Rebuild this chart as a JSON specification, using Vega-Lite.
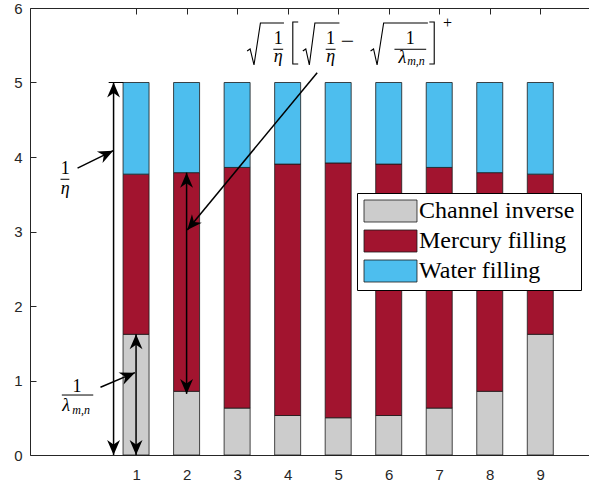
{
  "$schema": "https://vega.github.io/schema/vega-lite/v6.json",
  "width": 559,
  "height": 447,
  "autosize": {"type": "none"},
  "padding": {"left": 30, "top": 8, "right": 0, "bottom": 32},
  "background": "white",
  "config": {
    "view": {"stroke": null},
    "axis": {
      "grid": false,
      "labelFont": "Liberation Sans",
      "labelFontSize": 15,
      "labelColor": "#262626",
      "domainColor": "#262626",
      "tickColor": "#262626",
      "tickSize": -6,
      "domainWidth": 1,
      "tickWidth": 1
    },
    "legend": {
      "orient": "none",
      "legendX": 327,
      "legendY": 185,
      "symbolType": "M-1,-1H3.818V1H-1Z",
      "symbolSize": 484,
      "symbolStrokeColor": "#1a1a1a",
      "symbolStrokeWidth": 0.8,
      "symbolOpacity": 1,
      "labelFont": "Liberation Serif",
      "labelFontSize": 24,
      "labelColor": "black",
      "labelLimit": 300,
      "labelOffset": 32,
      "padding": 6,
      "rowPadding": 4,
      "strokeColor": "black",
      "fillColor": "white",
      "cornerRadius": 0
    }
  },
  "datasets": {
    "bars": [
      {"n": 1, "part": "Channel inverse", "value": 1.62},
      {"n": 1, "part": "Mercury filling", "value": 2.15},
      {"n": 1, "part": "Water filling", "value": 1.23},
      {"n": 2, "part": "Channel inverse", "value": 0.855},
      {"n": 2, "part": "Mercury filling", "value": 2.935},
      {"n": 2, "part": "Water filling", "value": 1.21},
      {"n": 3, "part": "Channel inverse", "value": 0.63},
      {"n": 3, "part": "Mercury filling", "value": 3.23},
      {"n": 3, "part": "Water filling", "value": 1.14},
      {"n": 4, "part": "Channel inverse", "value": 0.53},
      {"n": 4, "part": "Mercury filling", "value": 3.375},
      {"n": 4, "part": "Water filling", "value": 1.095},
      {"n": 5, "part": "Channel inverse", "value": 0.5},
      {"n": 5, "part": "Mercury filling", "value": 3.42},
      {"n": 5, "part": "Water filling", "value": 1.08},
      {"n": 6, "part": "Channel inverse", "value": 0.53},
      {"n": 6, "part": "Mercury filling", "value": 3.375},
      {"n": 6, "part": "Water filling", "value": 1.095},
      {"n": 7, "part": "Channel inverse", "value": 0.63},
      {"n": 7, "part": "Mercury filling", "value": 3.23},
      {"n": 7, "part": "Water filling", "value": 1.14},
      {"n": 8, "part": "Channel inverse", "value": 0.855},
      {"n": 8, "part": "Mercury filling", "value": 2.935},
      {"n": 8, "part": "Water filling", "value": 1.21},
      {"n": 9, "part": "Channel inverse", "value": 1.62},
      {"n": 9, "part": "Mercury filling", "value": 2.15},
      {"n": 9, "part": "Water filling", "value": 1.23}
    ],
    "shafts": [
      {"x": 0.555, "y": 0, "x2": 0.555, "y2": 5},
      {"x": 1, "y": 0, "x2": 1, "y2": 1.62},
      {"x": 2, "y": 0.82, "x2": 2, "y2": 3.79},
      {"x": -0.158, "y": 3.85, "x2": 0.548, "y2": 4.085},
      {"x": 0.296, "y": 0.909, "x2": 0.977, "y2": 1.105},
      {"x": 4.584, "y": 5.132, "x2": 2.013, "y2": 3.02}
    ],
    "thin": [
      {"x": 0.458, "y": 5, "x2": 0.749, "y2": 5},
      {"x": -0.495, "y": 3.701, "x2": -0.32, "y2": 3.701},
      {"x": -0.469, "y": 0.805, "x2": 0.153, "y2": 0.805},
      {"x": 3.717, "y": 5.446, "x2": 3.912, "y2": 5.446},
      {"x": 4.753, "y": 5.446, "x2": 4.948, "y2": 5.446},
      {"x": 6.114, "y": 5.446, "x2": 6.742, "y2": 5.446}
    ],
    "strokes": [
      {"id": "r1", "k": 0, "x": 3.198, "y": 5.423},
      {"id": "r1", "k": 1, "x": 3.257, "y": 5.45},
      {"id": "r1", "k": 2, "x": 3.334, "y": 5.235},
      {"id": "r1", "k": 3, "x": 3.461, "y": 5.799},
      {"id": "r1", "k": 4, "x": 3.927, "y": 5.799},
      {"id": "r2", "k": 0, "x": 4.3, "y": 5.423},
      {"id": "r2", "k": 1, "x": 4.359, "y": 5.45},
      {"id": "r2", "k": 2, "x": 4.429, "y": 5.235},
      {"id": "r2", "k": 3, "x": 4.539, "y": 5.799},
      {"id": "r2", "k": 4, "x": 5.025, "y": 5.799},
      {"id": "r3", "k": 0, "x": 5.641, "y": 5.423},
      {"id": "r3", "k": 1, "x": 5.7, "y": 5.45},
      {"id": "r3", "k": 2, "x": 5.77, "y": 5.235},
      {"id": "r3", "k": 3, "x": 5.9, "y": 5.799},
      {"id": "r3", "k": 4, "x": 6.775, "y": 5.799},
      {"id": "bl", "k": 0, "x": 4.209, "y": 5.812},
      {"id": "bl", "k": 1, "x": 4.102, "y": 5.812},
      {"id": "bl", "k": 2, "x": 4.102, "y": 5.248},
      {"id": "bl", "k": 3, "x": 4.209, "y": 5.248},
      {"id": "br", "k": 0, "x": 6.804, "y": 5.812},
      {"id": "br", "k": 1, "x": 6.901, "y": 5.812},
      {"id": "br", "k": 2, "x": 6.901, "y": 5.248},
      {"id": "br", "k": 3, "x": 6.804, "y": 5.248}
    ],
    "heads": [
      {"dir": "up", "x": 0.555, "y": 5},
      {"dir": "up", "x": 1, "y": 1.62},
      {"dir": "up", "x": 2, "y": 3.79},
      {"dir": "down", "x": 0.555, "y": 0},
      {"dir": "down", "x": 1, "y": 0},
      {"dir": "down", "x": 2, "y": 0.82},
      {"dir": "eta", "x": 0.548, "y": 4.085},
      {"dir": "lam", "x": 0.977, "y": 1.105},
      {"dir": "formula", "x": 2.013, "y": 3.02}
    ],
    "notes": [
      {"role": "num", "t": "1", "x": 3.814, "y": 5.585},
      {"role": "num", "t": "1", "x": 4.85, "y": 5.585},
      {"role": "num", "t": "1", "x": 6.425, "y": 5.585},
      {"role": "num", "t": "1", "x": -0.403, "y": 3.835},
      {"role": "num", "t": "1", "x": -0.17, "y": 0.918},
      {"role": "sym", "t": "η", "x": 3.811, "y": 5.34},
      {"role": "sym", "t": "η", "x": 4.85, "y": 5.34},
      {"role": "sym", "t": "λ", "x": 6.269, "y": 5.33},
      {"role": "sym", "t": "η", "x": -0.403, "y": 3.57},
      {"role": "sym", "t": "λ", "x": -0.384, "y": 0.655},
      {"role": "sub", "t": "m,n", "x": 6.366, "y": 5.295},
      {"role": "sub", "t": "m,n", "x": -0.261, "y": 0.61},
      {"role": "minus", "t": "−", "x": 5.187, "y": 5.537},
      {"role": "plus", "t": "+", "x": 7.163, "y": 5.8}
    ]
  },
  "resolve": {"axis": {"x": "independent"}},
  "layer": [
    {
      "data": {"name": "bars"},
      "mark": {"type": "bar", "width": 26, "stroke": "#1a1a1a", "strokeWidth": 0.8},
      "encoding": {
        "x": {
          "field": "n", "type": "quantitative", "title": null,
          "scale": {"domain": [-1, 9.865], "nice": false, "zero": false},
          "axis": {"orient": "bottom", "values": [1, 2, 3, 4, 5, 6, 7, 8, 9], "format": "d", "labelFontSize": 15, "labelFont": "Liberation Sans", "labelPadding": 18}
        },
        "y": {
          "field": "value", "type": "quantitative", "stack": "zero", "title": null,
          "scale": {"domain": [0, 6], "nice": false},
          "axis": {"values": [0, 1, 2, 3, 4, 5, 6], "format": "d", "labelFontSize": 15, "labelFont": "Liberation Sans", "labelPadding": 14}
        },
        "color": {
          "field": "part", "type": "nominal", "title": null,
          "scale": {
            "domain": ["Channel inverse", "Mercury filling", "Water filling"],
            "range": ["#cccccc", "#a2142f", "#4dbeee"]
          }
        },
        "order": {"field": "part"}
      }
    },
    {
      "data": {"name": "shafts"},
      "mark": {"type": "rule", "color": "black", "strokeWidth": 1.5},
      "encoding": {
        "x": {
          "field": "x", "type": "quantitative", "title": null,
          "axis": {"orient": "top", "values": [1, 2, 3, 4, 5, 6, 7, 8, 9], "labels": false}
        },
        "y": {"field": "y", "type": "quantitative", "title": null},
        "x2": {"field": "x2"},
        "y2": {"field": "y2"}
      }
    },
    {
      "data": {"name": "thin"},
      "mark": {"type": "rule", "color": "black", "strokeWidth": 1},
      "encoding": {
        "x": {"field": "x", "type": "quantitative", "title": null, "axis": null},
        "y": {"field": "y", "type": "quantitative", "title": null},
        "x2": {"field": "x2"},
        "y2": {"field": "y2"}
      }
    },
    {
      "data": {"name": "strokes"},
      "mark": {"type": "line", "color": "black", "strokeWidth": 1.1},
      "encoding": {
        "x": {"field": "x", "type": "quantitative", "title": null, "axis": null},
        "y": {"field": "y", "type": "quantitative", "title": null},
        "detail": {"field": "id"},
        "order": {"field": "k"}
      }
    },
    {
      "data": {"name": "heads"},
      "transform": [{"filter": "datum.dir === 'up'"}],
      "mark": {"type": "point", "shape": "M0,0L0.43,1L0,0.7L-0.43,1Z", "size": 900, "filled": true, "color": "black", "opacity": 1, "angle": 0},
      "encoding": {
        "x": {"field": "x", "type": "quantitative", "title": null, "axis": null},
        "y": {"field": "y", "type": "quantitative", "title": null}
      }
    },
    {
      "data": {"name": "heads"},
      "transform": [{"filter": "datum.dir === 'down'"}],
      "mark": {"type": "point", "shape": "M0,0L0.43,1L0,0.7L-0.43,1Z", "size": 900, "filled": true, "color": "black", "opacity": 1, "angle": 180},
      "encoding": {
        "x": {"field": "x", "type": "quantitative", "title": null, "axis": null},
        "y": {"field": "y", "type": "quantitative", "title": null}
      }
    },
    {
      "data": {"name": "heads"},
      "transform": [{"filter": "datum.dir === 'eta'"}],
      "mark": {"type": "point", "shape": "M0,0L0.43,1L0,0.7L-0.43,1Z", "size": 900, "filled": true, "color": "black", "opacity": 1, "angle": 64},
      "encoding": {
        "x": {"field": "x", "type": "quantitative", "title": null, "axis": null},
        "y": {"field": "y", "type": "quantitative", "title": null}
      }
    },
    {
      "data": {"name": "heads"},
      "transform": [{"filter": "datum.dir === 'lam'"}],
      "mark": {"type": "point", "shape": "M0,0L0.43,1L0,0.7L-0.43,1Z", "size": 900, "filled": true, "color": "black", "opacity": 1, "angle": 67},
      "encoding": {
        "x": {"field": "x", "type": "quantitative", "title": null, "axis": null},
        "y": {"field": "y", "type": "quantitative", "title": null}
      }
    },
    {
      "data": {"name": "heads"},
      "transform": [{"filter": "datum.dir === 'formula'"}],
      "mark": {"type": "point", "shape": "M0,0L0.43,1L0,0.7L-0.43,1Z", "size": 900, "filled": true, "color": "black", "opacity": 1, "angle": 220},
      "encoding": {
        "x": {"field": "x", "type": "quantitative", "title": null, "axis": null},
        "y": {"field": "y", "type": "quantitative", "title": null}
      }
    },
    {
      "data": {"name": "notes"},
      "transform": [{"filter": "datum.role === 'num'"}],
      "mark": {"type": "text", "font": "Liberation Serif", "fontSize": 18, "color": "black", "baseline": "middle", "align": "center"},
      "encoding": {
        "x": {"field": "x", "type": "quantitative", "title": null, "axis": null},
        "y": {"field": "y", "type": "quantitative", "title": null},
        "text": {"field": "t"}
      }
    },
    {
      "data": {"name": "notes"},
      "transform": [{"filter": "datum.role === 'sym'"}],
      "mark": {"type": "text", "font": "Liberation Serif", "fontStyle": "italic", "fontSize": 18, "color": "black", "baseline": "middle", "align": "center"},
      "encoding": {
        "x": {"field": "x", "type": "quantitative", "title": null, "axis": null},
        "y": {"field": "y", "type": "quantitative", "title": null},
        "text": {"field": "t"}
      }
    },
    {
      "data": {"name": "notes"},
      "transform": [{"filter": "datum.role === 'sub'"}],
      "mark": {"type": "text", "font": "Liberation Serif", "fontStyle": "italic", "fontSize": 12, "color": "black", "baseline": "middle", "align": "left"},
      "encoding": {
        "x": {"field": "x", "type": "quantitative", "title": null, "axis": null},
        "y": {"field": "y", "type": "quantitative", "title": null},
        "text": {"field": "t"}
      }
    },
    {
      "data": {"name": "notes"},
      "transform": [{"filter": "datum.role === 'minus'"}],
      "mark": {"type": "text", "font": "Liberation Serif", "fontSize": 24, "color": "black", "baseline": "middle", "align": "center"},
      "encoding": {
        "x": {"field": "x", "type": "quantitative", "title": null, "axis": null},
        "y": {"field": "y", "type": "quantitative", "title": null},
        "text": {"field": "t"}
      }
    },
    {
      "data": {"name": "notes"},
      "transform": [{"filter": "datum.role === 'plus'"}],
      "mark": {"type": "text", "font": "Liberation Serif", "fontSize": 16, "color": "black", "baseline": "middle", "align": "center"},
      "encoding": {
        "x": {"field": "x", "type": "quantitative", "title": null, "axis": null},
        "y": {"field": "y", "type": "quantitative", "title": null},
        "text": {"field": "t"}
      }
    }
  ]
}
